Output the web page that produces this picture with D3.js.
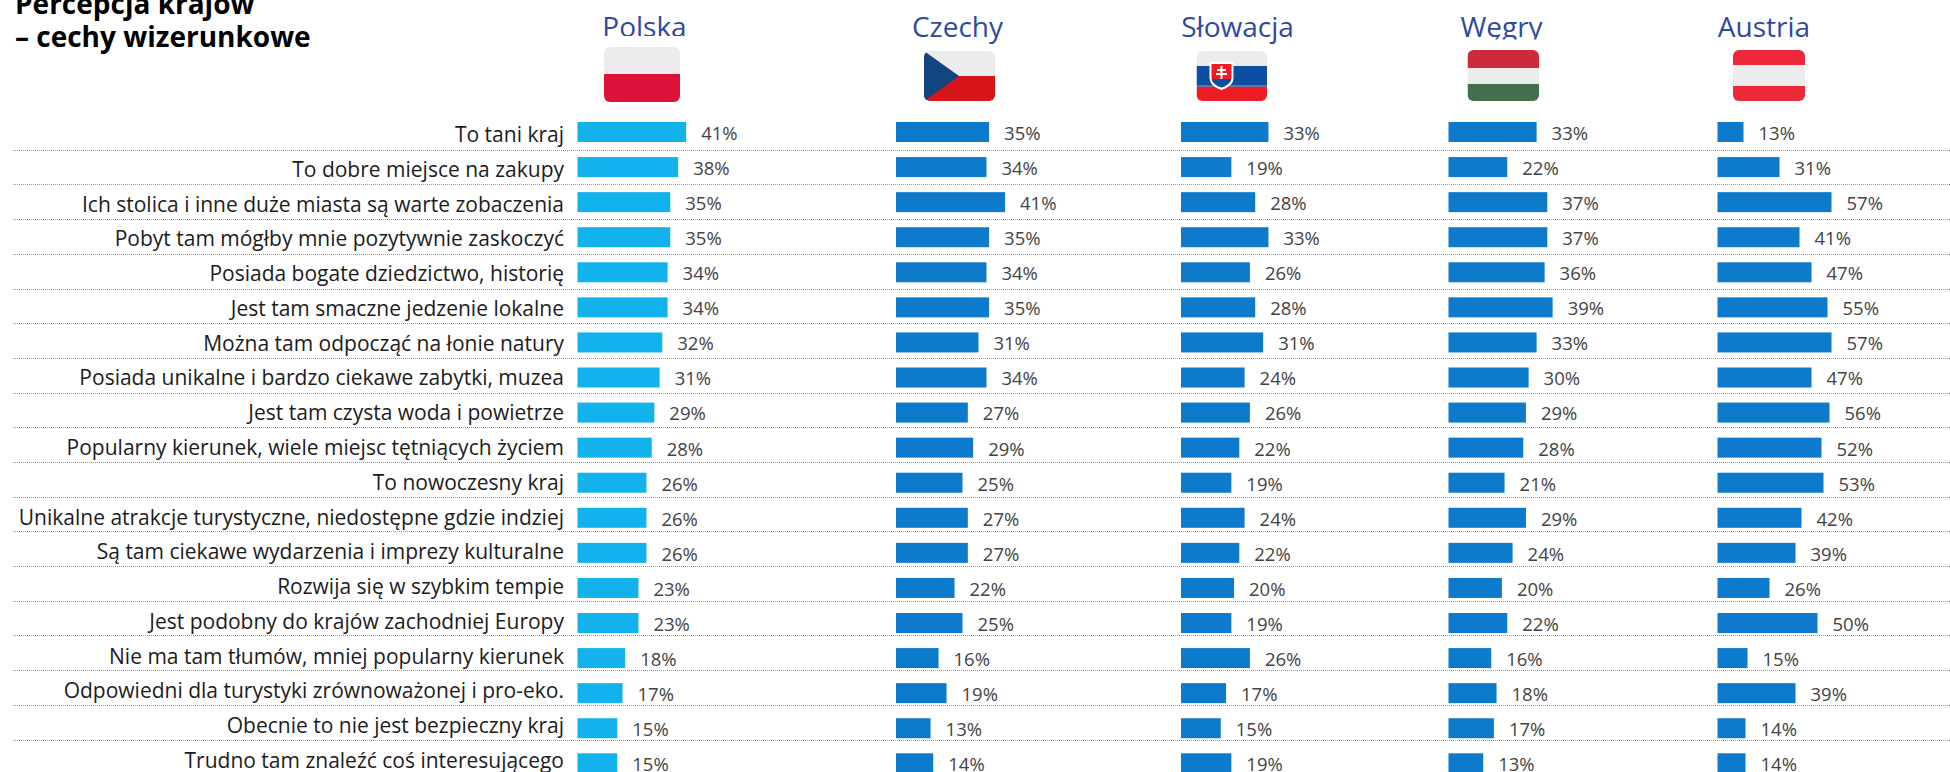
<!DOCTYPE html>
<html>
<head>
<meta charset="utf-8">
<script src="https://cdnjs.cloudflare.com/ajax/libs/d3/7.8.5/d3.min.js"></script>
<style>
html, body { margin: 0; padding: 0; background: #fff; overflow: hidden; }
text { font-family: "Open Sans", sans-serif; }
</style>
</head>
<body>
<div id="chart"></div>
<script>
var categories = [
  "To tani kraj",
  "To dobre miejsce na zakupy",
  "Ich stolica i inne duże miasta są warte zobaczenia",
  "Pobyt tam mógłby mnie pozytywnie zaskoczyć",
  "Posiada bogate dziedzictwo, historię",
  "Jest tam smaczne jedzenie lokalne",
  "Można tam odpocząć na łonie natury",
  "Posiada unikalne i bardzo ciekawe zabytki, muzea",
  "Jest tam czysta woda i powietrze",
  "Popularny kierunek, wiele miejsc tętniących życiem",
  "To nowoczesny kraj",
  "Unikalne atrakcje turystyczne, niedostępne gdzie indziej",
  "Są tam ciekawe wydarzenia i imprezy kulturalne",
  "Rozwija się w szybkim tempie",
  "Jest podobny do krajów zachodniej Europy",
  "Nie ma tam tłumów, mniej popularny kierunek",
  "Odpowiedni dla turystyki zrównoważonej i pro-eko.",
  "Obecnie to nie jest bezpieczny kraj",
  "Trudno tam znaleźć coś interesującego"
];
var polska   = [41, 38, 35, 35, 34, 34, 32, 31, 29, 28, 26, 26, 26, 23, 23, 18, 17, 15, 15];
var czechy   = [35, 34, 41, 35, 34, 35, 31, 34, 27, 29, 25, 27, 27, 22, 25, 16, 19, 13, 14];
var slowacja = [33, 19, 28, 33, 26, 28, 31, 24, 26, 22, 19, 24, 22, 20, 19, 26, 17, 15, 19];
var wegry    = [33, 22, 37, 37, 36, 39, 33, 30, 29, 28, 21, 29, 24, 20, 22, 16, 18, 17, 13];
var austria  = [13, 31, 57, 41, 47, 55, 57, 47, 56, 52, 53, 42, 39, 26, 50, 15, 39, 14, 14];
var title_lines = ["Percepcja krajów", "– cechy wizerunkowe"];

var width = 1950;
var height = 772;

var columns = [
  {name: "Polska",   values: polska,   x0: 577.5,  per: 2.65, color: "#12b2ec", name_x: 644.5},
  {name: "Czechy",   values: czechy,   x0: 896,    per: 2.66, color: "#0d7acb", name_x: 957.5},
  {name: "Słowacja", values: slowacja, x0: 1181,   per: 2.65, color: "#0d7acb", name_x: 1237.5},
  {name: "Węgry",    values: wegry,    x0: 1448.5, per: 2.67, color: "#0d7acb", name_x: 1501.5},
  {name: "Austria",  values: austria,  x0: 1717.5, per: 2.0,  color: "#0d7acb", name_x: 1764}
];

var svg = d3.select("#chart").append("svg")
  .attr("width", width)
  .attr("height", height);

// Bars, labels and separators drift slightly apart in the original, so each gets its own scale.
var y_bar = d3.scaleLinear().domain([0, 18]).range([122, 753.3]);
var y_label = d3.scaleLinear().domain([0, 18]).range([142, 768]);
var y_value = d3.scaleLinear().domain([0, 18]).range([140, 771]);
var y_sep = d3.scaleLinear().domain([0, 17]).range([150.3, 740]);

// Separators
svg.append("g").selectAll("line")
  .data(d3.range(18))
  .enter().append("line")
  .attr("x1", 13)
  .attr("x2", width)
  .attr("y1", function (d) { return Math.floor(y_sep(d)) + 0.5; })
  .attr("y2", function (d) { return Math.floor(y_sep(d)) + 0.5; })
  .style("stroke", "#999")
  .style("stroke-width", 1)
  .style("stroke-dasharray", "1,1");

// Category labels
svg.append("g").selectAll("text")
  .data(categories)
  .enter().append("text")
  .attr("x", 564)
  .attr("y", function (d, i) { return y_label(i); })
  .attr("text-anchor", "end")
  .style("font-size", "21px")
  .style("fill", "#1c1c1c")
  .text(function (d) { return d; });

// Bars and value labels per country
columns.forEach(function (col) {
  var x = d3.scaleLinear().domain([0, 100]).range([col.x0, col.x0 + col.per*100]);
  var g = svg.append("g");
  g.selectAll("rect")
    .data(col.values)
    .enter().append("rect")
    .attr("x", x(0))
    .attr("y", function (d, i) { return y_bar(i); })
    .attr("width", function (d) { return x(d) - x(0); })
    .attr("height", 20)
    .style("fill", col.color);
  g.selectAll("text")
    .data(col.values)
    .enter().append("text")
    .attr("x", function (d) { return x(d) + 15; })
    .attr("y", function (d, i) { return y_value(i); })
    .style("font-size", "18.5px")
    .style("fill", "#444")
    .text(function (d) { return d + "%"; });
  svg.append("text")
    .attr("x", col.name_x)
    .attr("y", 37)
    .attr("text-anchor", "middle")
    .style("font-size", "28px")
    .style("fill", "#2e4a9e")
    .text(col.name);
});

// Title runs off the top edge like in the original
svg.append("g").selectAll("text")
  .data(title_lines)
  .enter().append("text")
  .attr("x", 15)
  .attr("y", function (d, i) { return 14 + i*33; })
  .style("font-size", "28px")
  .style("font-weight", "700")
  .style("fill", "#000")
  .text(function (d) { return d; });

// Flags
function flag (id, x, y, w, h, bands) {
  svg.append("clipPath").attr("id", id).append("rect")
    .attr("x", x).attr("y", y).attr("width", w).attr("height", h).attr("rx", 6);
  var g = svg.append("g").attr("clip-path", "url(#" + id + ")");
  bands.forEach(function (b) {
    g.append("rect").attr("x", x).attr("y", y + b[0]).attr("width", w).attr("height", b[1] - b[0]).style("fill", b[2]);
  });
  return g;
}

// Two flag images have a white box that cuts the country name off
svg.append("rect").attr("x", 598).attr("y", 36).attr("width", 88).attr("height", 70).style("fill", "#fff");
svg.append("rect").attr("x", 1461).attr("y", 39.5).attr("width", 84).attr("height", 70).style("fill", "#fff");

flag("flag_pl", 604, 47, 76, 55, [[0, 27, "#ececec"], [27, 55, "#dc1239"]]);

var cz = flag("flag_cz", 924, 51, 71, 50, [[0, 25, "#ececec"], [25, 50, "#d7141a"]]);
cz.append("path").attr("d", "M924,51L959,76L924,101Z").style("fill", "#11457e");

var sk = flag("flag_sk", 1196.5, 51, 70.5, 50, [[0, 15, "#ececec"], [15, 34, "#0b4ea2"], [34, 36, "#7a6a90"], [36, 50, "#ee1c25"]]);
sk.append("path").attr("d", "M1209.5,62H1233.5V78Q1233.5,86 1221.5,90Q1209.5,86 1209.5,78Z").style("fill", "#fff");
sk.append("path").attr("d", "M1211.5,64H1231.5V78Q1231.5,84 1221.5,87.5Q1211.5,84 1211.5,78Z").style("fill", "#ee1c25");
sk.append("path").attr("d", "M1212,79H1231Q1230.5,84 1221.5,87.5Q1212.5,84 1212,79Z").style("fill", "#0b4ea2");
sk.append("path").attr("d", "M1220.5,66H1222.5V69H1226V71H1222.5V73H1227V75H1222.5V79H1220.5V75H1216V73H1220.5V71H1217V69H1220.5Z").style("fill", "#fff");

flag("flag_hu", 1467.5, 50, 71.5, 51, [[0, 18, "#cd2a3e"], [18, 34, "#ececec"], [34, 51, "#436f4d"]]);
flag("flag_at", 1733, 50, 72, 51, [[0, 15, "#ed2939"], [15, 36, "#ececec"], [36, 51, "#ed2939"]]);
</script>
</body>
</html>
